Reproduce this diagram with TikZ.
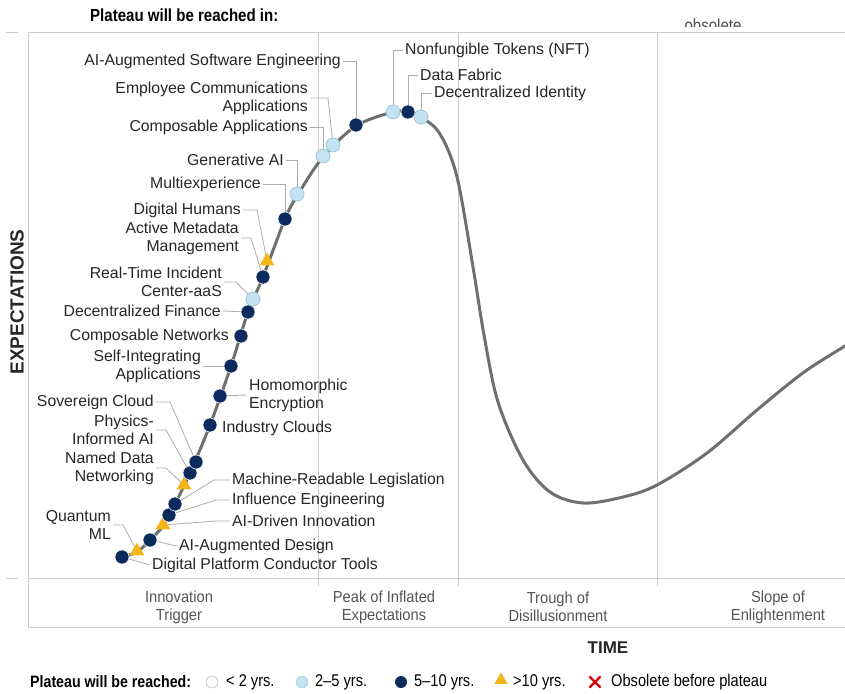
\documentclass[tikz,border=0pt]{standalone}
\usepackage{fontspec}
\setmainfont{Liberation Sans}
\newfontfamily\condfont[FakeStretch=0.86]{Liberation Sans}
\newfontfamily\phasefont[FakeStretch=0.92]{Liberation Sans}
\usetikzlibrary{shapes.geometric,shapes.misc}
\definecolor{navy}{HTML}{0B2B5C}
\definecolor{lightdot}{HTML}{C4E3F2}
\definecolor{lightrim}{HTML}{9DC2D6}
\definecolor{gold}{HTML}{F2B619}
\definecolor{curvegrey}{HTML}{6E7070}
\definecolor{rulegrey}{HTML}{CDCDCD}
\definecolor{leadergrey}{HTML}{ADADAD}
\definecolor{textgrey}{HTML}{555555}

\begin{document}
\begin{tikzpicture}[x=1pt,y=-1pt,
  navy dot/.style={circle,fill=navy,draw=white,line width=0.5,minimum size=14,inner sep=0},
  light dot/.style={circle,fill=lightdot,draw=lightrim,line width=0.7,minimum size=14,inner sep=0},
  gold tri/.style={regular polygon,regular polygon sides=3,fill=gold,minimum size=17,inner sep=0},
  tech/.style={font=\fontsize{15.8}{18}\selectfont,text=black!85,inner sep=2pt},
  leader/.style={draw=leadergrey,line width=0.8},
  phase/.style={font=\phasefont\fontsize{16}{18}\selectfont,text=textgrey,align=center},
  key/.style={font=\condfont\fontsize{17}{18}\selectfont,anchor=west,inner sep=0}]

\useasboundingbox (0,0) rectangle (845,693);
\fill[white] (0,0) rectangle (845,693);

% header row, cut off
\node[font=\condfont\bfseries\fontsize{17.5}{19}\selectfont,anchor=west,inner sep=0] (head) at (90,15) {Plateau will be reached in:};
\begin{scope}
  \clip (0,0) rectangle (845,27);
  \node[font=\condfont\fontsize{17.5}{19}\selectfont,text=black!70,anchor=base] (obs) at (713,32) {obsolete};
\end{scope}

% frame
\draw[rulegrey,line width=1] (28,33) -- (845,33) (28,33) -- (28,627) -- (845,627) (28,578) -- (845,578);
\draw[rulegrey,line width=1] (318,33) -- (318,586) (458,33) -- (458,586) (657,33) -- (657,586);
\draw[rulegrey,line width=1] (6,33) -- (18,33) (6,578) -- (18,578);

\node[rotate=90,font=\bfseries\fontsize{19}{21}\selectfont,text=black!85] (yaxis) at (17,302) {EXPECTATIONS};
\node[font=\bfseries\fontsize{17}{20}\selectfont,text=black!85] (xaxis) at (608,648) {TIME};

\node[phase] (trigger) at (179,607) {Innovation\\Trigger};
\node[phase] (peak) at (384,607) {Peak of Inflated\\Expectations};
\node[phase] (trough) at (558,607) {Trough of\\Disillusionment};
\node[phase] (slope) at (778,607) {Slope of\\Enlightenment};

% the curve
\draw[curvegrey,line width=3] plot[smooth,tension=0.55] coordinates {
  (122,557) (137,552) (150,540) (163,526) (175,504) (190,473) (210,425)
  (231,366) (248,312) (263,277) (285,219) (297,196) (323,157) (356,126)
  (393,112) (408,112) (421,117) (440,134) (457,177) (473,267) (484,335)
  (498,402) (523,460) (550,492) (583,503) (623,497) (657,485) (707,453)
  (757,410) (807,370) (862,336)};

% technologies
\node[navy dot] (dpct) at (122,557) {};
\node[gold tri] (qml) at (137,551) {};
\node[navy dot] (aad) at (150,540) {};
\node[gold tri] (adi) at (163,525) {};
\node[navy dot] (infl) at (169,515) {};
\node[navy dot] (mrl) at (175,504) {};
\node[gold tri] (ndn) at (184,485) {};
\node[navy dot] (pai) at (190,473) {};
\node[navy dot] (sov) at (196,462) {};
\node[navy dot] (ind) at (210,425) {};
\node[navy dot] (hom) at (220,396) {};
\node[navy dot] (sia) at (231,366) {};
\node[navy dot] (cnet) at (241,336) {};
\node[navy dot] (dfi) at (248,312) {};
\node[light dot] (rtic) at (253,299) {};
\node[navy dot] (amm) at (263,277) {};
\node[gold tri] (dh) at (267,261) {};
\node[navy dot] (mx) at (285,219) {};
\node[light dot] (gen) at (297,194) {};
\node[light dot] (capp) at (323,156) {};
\node[light dot] (eca) at (333,145) {};
\node[navy dot] (ase) at (356,125) {};
\node[light dot] (nft) at (393,112) {};
\node[navy dot] (fab) at (408,112) {};
\node[light dot] (did) at (421,117) {};

\node[tech,anchor=west] (ldpct) at (150,565) {Digital Platform Conductor Tools};
\node[tech,anchor=east,align=right] (lqml) at (113,525) {Quantum\\ML};
\node[tech,anchor=west] (laad) at (177,546) {AI-Augmented Design};
\node[tech,anchor=west] (ladi) at (230,521) {AI-Driven Innovation};
\node[tech,anchor=west] (linfl) at (230,500) {Influence Engineering};
\node[tech,anchor=west] (lmrl) at (230,480) {Machine-Readable Legislation};
\node[tech,anchor=east,align=right] (lndn) at (156,468) {Named Data\\Networking};
\node[tech,anchor=east,align=right] (lpai) at (156,430) {Physics-\\Informed AI};
\node[tech,anchor=east] (lsov) at (156,402) {Sovereign Cloud};
\node[tech,anchor=west] (lind) at (220,428) {Industry Clouds};
\node[tech,anchor=west,align=left] (lhom) at (247,395) {Homomorphic\\Encryption};
\node[tech,anchor=east,align=right] (lsia) at (203,366) {Self-Integrating\\Applications};
\node[tech,anchor=east] (lcnet) at (231,336) {Composable Networks};
\node[tech,anchor=east] (ldfi) at (223,311) {Decentralized Finance};
\node[tech,anchor=east,align=right] (lrtic) at (224,282) {Real-Time Incident\\Center-aaS};
\node[tech,anchor=east,align=right] (lamm) at (241,238) {Active Metadata\\Management};
\node[tech,anchor=east] (ldh) at (243,210) {Digital Humans};
\node[tech,anchor=east] (lmx) at (263,184) {Multiexperience};
\node[tech,anchor=east] (lgen) at (286,160) {Generative AI};
\node[tech,anchor=east] (lcapp) at (310,127) {Composable Applications};
\node[tech,anchor=east,align=right] (leca) at (310,98) {Employee Communications\\Applications};
\node[tech,anchor=east] (lase) at (343,61) {AI-Augmented Software Engineering};
\node[tech,anchor=west] (lnft) at (403,50) {Nonfungible Tokens (NFT)};
\node[tech,anchor=west] (lfab) at (418,75) {Data Fabric};
\node[tech,anchor=west] (ldid) at (432,93) {Decentralized Identity};

\draw[leader] (dpct) -- (ldpct.west);
\draw[leader] (lqml.east) -- ++(10,0) -- (qml);
\draw[leader] (aad) -- (laad.west);
\draw[leader] (ladi.west) -- ++(-14,0) -- (adi);
\draw[leader] (linfl.west) -- ++(-14,0) -- (infl);
\draw[leader] (lmrl.west) -- ++(-16,0) -- (mrl);
\draw[leader] (lndn.east) -- ++(10,0) -- (ndn);
\draw[leader] (lpai.east) -- ++(10,0) -- (pai);
\draw[leader] (lsov.east) -- ++(14,0) -- (sov);
\draw[leader] (hom) -- (lhom.west);
\draw[leader] (lsia.east) -- (sia);
\draw[leader] (ldfi.east) -- (dfi);
\draw[leader] (lrtic.east) -- ++(12,0) -- (rtic);
\draw[leader] (lamm.east) -- ++(10,0) -- (amm);
\draw[leader] (ldh.east) -- ++(14,0) -- (dh);
\draw[leader] (lmx.east) -| (mx);
\draw[leader] (lgen.east) -| (gen);
\draw[leader] (lcapp.east) -| (capp);
\draw[leader] (leca.east) -- ++(18,0) -- (eca);
\draw[leader] (lase.east) -| (ase);
\draw[leader] (lnft.west) -| (nft);
\draw[leader] (lfab.west) -| (fab);
\draw[leader] (ldid.west) -| (did);

% legend
\node[font=\condfont\bfseries\fontsize{16.5}{18}\selectfont,anchor=west,inner sep=0] (plateau) at (30,682) {Plateau will be reached:};
\node[circle,draw=black!35,fill=white,minimum size=12,inner sep=0] (k1) at (212,682) {};
\node[key] (t1) at (226,682) {< 2 yrs.};
\node[circle,draw=lightrim,fill=lightdot,minimum size=12,inner sep=0] (k2) at (302,682) {};
\node[key] (t2) at (315,682) {2–5 yrs.};
\node[circle,fill=navy,minimum size=12,inner sep=0] (k3) at (401,682) {};
\node[key] (t3) at (414,682) {5–10 yrs.};
\node[regular polygon,regular polygon sides=3,fill=gold,minimum size=15,inner sep=0] (k4) at (501,680) {};
\node[key] (t4) at (513,682) {>10 yrs.};
\node[cross out,draw=red!85!black,line width=2.2,minimum size=9,inner sep=0] (k5) at (595,682) {};
\node[key] (t5) at (611,682) {Obsolete before plateau};
\end{tikzpicture}
\end{document}
